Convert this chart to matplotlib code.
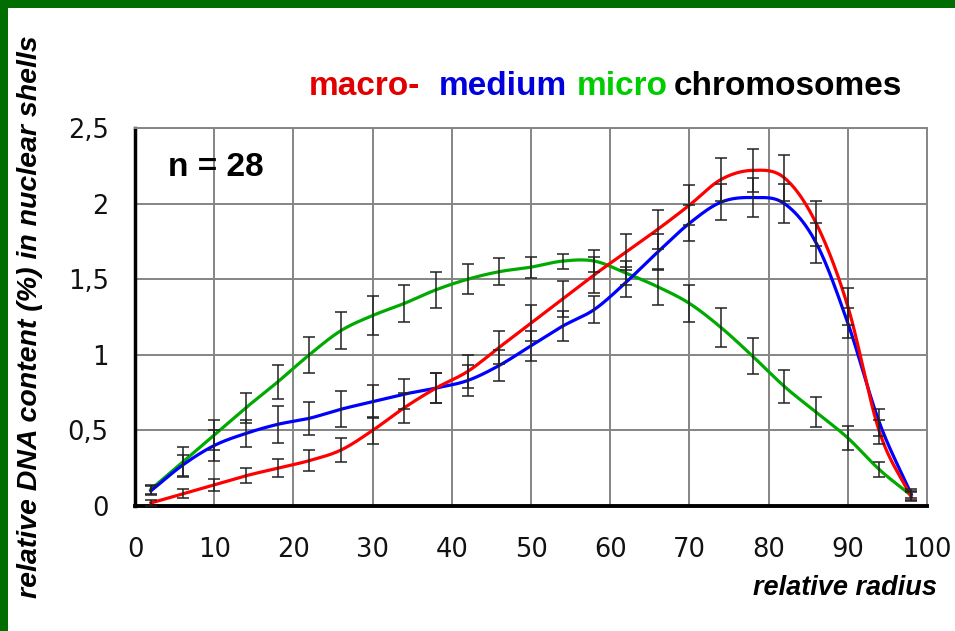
import numpy as np
import matplotlib
matplotlib.use('Agg')
import matplotlib.pyplot as plt
from matplotlib.patches import Rectangle

# relative radius (centre of each nuclear shell)
radius = [2, 6, 10, 14, 18, 22, 26, 30, 34, 38, 42, 46, 50,
          54, 58, 62, 66, 70, 74, 78, 82, 86, 90, 94, 98]

# macro-chromosomes
macro = [0.02, 0.08, 0.14, 0.20, 0.25, 0.30, 0.37, 0.50, 0.65, 0.78, 0.89, 1.05, 1.21,
         1.37, 1.53, 1.68, 1.83, 1.99, 2.16, 2.22, 2.17, 1.87, 1.32, 0.49, 0.06]
macro_err = [0.02, 0.03, 0.04, 0.05, 0.06, 0.07, 0.08, 0.09, 0.10, 0.10, 0.11, 0.11, 0.12,
             0.12, 0.12, 0.12, 0.13, 0.13, 0.14, 0.14, 0.15, 0.15, 0.12, 0.08, 0.03]

# medium chromosomes
medium = [0.10, 0.27, 0.40, 0.48, 0.54, 0.58, 0.64, 0.69, 0.74, 0.78, 0.83, 0.93, 1.06,
          1.19, 1.30, 1.48, 1.68, 1.87, 2.01, 2.04, 2.00, 1.74, 1.21, 0.55, 0.08]
medium_err = [0.03, 0.07, 0.10, 0.09, 0.12, 0.11, 0.12, 0.11, 0.10, 0.10, 0.10, 0.10, 0.10,
              0.10, 0.09, 0.10, 0.12, 0.12, 0.12, 0.13, 0.13, 0.13, 0.10, 0.09, 0.03]

# micro-chromosomes
micro = [0.11, 0.29, 0.47, 0.65, 0.82, 1.00, 1.16, 1.26, 1.34, 1.43, 1.50, 1.55, 1.58,
         1.62, 1.62, 1.54, 1.45, 1.34, 1.18, 0.99, 0.79, 0.62, 0.45, 0.24, 0.07]
micro_err = [0.03, 0.10, 0.10, 0.10, 0.11, 0.12, 0.12, 0.13, 0.12, 0.12, 0.10, 0.09, 0.07,
             0.05, 0.07, 0.08, 0.12, 0.12, 0.13, 0.12, 0.11, 0.10, 0.08, 0.05, 0.03]

yticks = [0, 0.5, 1, 1.5, 2, 2.5]
ytick_labels = ['0', '0,5', '1', '1,5', '2', '2,5']
xticks = [0, 10, 20, 30, 40, 50, 60, 70, 80, 90, 100]

title_words = ['macro-', 'medium', 'micro', 'chromosomes']
title_colors = ['#e00000', '#0000dd', '#00cc00', 'black']


def smooth(x, y, steps=24):
    # Catmull-Rom through the measured points (like a "smoothed line" chart)
    x = np.asarray(x, float)
    y = np.asarray(y, float)
    px = np.concatenate([[2 * x[0] - x[1]], x, [2 * x[-1] - x[-2]]])
    py = np.concatenate([[2 * y[0] - y[1]], y, [2 * y[-1] - y[-2]]])
    t = np.linspace(0, 1, steps, endpoint=False)
    xs, ys = [], []
    for i in range(1, len(px) - 2):
        for p, out in ((px, xs), (py, ys)):
            p0, p1, p2, p3 = p[i - 1], p[i], p[i + 1], p[i + 2]
            out.extend(0.5 * (2 * p1 + (-p0 + p2) * t
                              + (2 * p0 - 5 * p1 + 4 * p2 - p3) * t ** 2
                              + (-p0 + 3 * p1 - 3 * p2 + p3) * t ** 3))
    xs.append(x[-1])
    ys.append(y[-1])
    return np.array(xs), np.array(ys)


fig = plt.figure(figsize=(9.55, 6.31), dpi=100, facecolor='white')
ax = fig.add_axes([0.1414, 0.1981, 0.8293, 0.599])

series = [
    (micro, micro_err, '#00aa00'),
    (medium, medium_err, '#0000ff'),
    (macro, macro_err, '#ff0000'),
]
for vals, err, col in series:
    sx, sy = smooth(radius, vals)
    ax.plot(sx, sy, color=col, lw=2.3, zorder=3)
for vals, err, col in series:
    ax.errorbar(radius, vals, yerr=err, fmt='none', ecolor='#222222',
                elinewidth=1.1, capsize=4, capthick=1.1, zorder=4)

ax.set_xlim(0, 100)
ax.set_ylim(0, 2.5)
ax.set_xticks(xticks)
ax.set_yticks(yticks)
ax.set_yticklabels(ytick_labels)
ax.grid(True, color='#858585', lw=1.4, zorder=0)
ax.set_axisbelow(True)
ax.tick_params(length=0, labelsize=18.5, colors='#111111')
ax.tick_params(axis='x', pad=22)
ax.tick_params(axis='y', pad=19)
for lab in ax.get_xticklabels() + ax.get_yticklabels():
    lab.set_family('DejaVu Sans')

ax.spines['left'].set_color('black')
ax.spines['left'].set_linewidth(2.5)
ax.spines['bottom'].set_color('black')
ax.spines['bottom'].set_linewidth(2.8)
ax.spines['top'].set_color('#858585')
ax.spines['top'].set_linewidth(1.4)
ax.spines['right'].set_color('#858585')
ax.spines['right'].set_linewidth(1.4)

ax.text(4.2, 2.18, 'n = 28', fontsize=24, fontweight='bold',
        family='Liberation Sans', va='baseline', ha='left')

# title in four colours, words laid out one after another
fig.canvas.draw()
renderer = fig.canvas.get_renderer()
x_px = 309
gaps = [18, 10, 6]
for i, (word, col) in enumerate(zip(title_words, title_colors)):
    t = fig.text(x_px / 955, 0.849, word, color=col, fontsize=24, fontweight='bold',
                 family='Liberation Sans', ha='left', va='baseline')
    w = t.get_window_extent(renderer).width
    if i < len(gaps):
        x_px += w + gaps[i]

fig.text(30 / 955, 314 / 631, 'relative DNA content (%) in nuclear shells',
         rotation=90, fontsize=20.5, fontweight='bold', style='italic',
         family='Liberation Sans', ha='center', va='center')
fig.text(937 / 955, 36 / 631, 'relative radius', fontsize=19.5, fontweight='bold',
         style='italic', family='Liberation Sans', ha='right', va='baseline')

# green frame on top and left edges
fig.patches.append(Rectangle((0, 1 - 8 / 631), 1, 8 / 631, transform=fig.transFigure,
                             facecolor='#006e00', edgecolor='none', zorder=10))
fig.patches.append(Rectangle((0, 0), 8 / 955, 1, transform=fig.transFigure,
                             facecolor='#006e00', edgecolor='none', zorder=10))

fig.savefig('out.png', dpi=100, facecolor='white')
